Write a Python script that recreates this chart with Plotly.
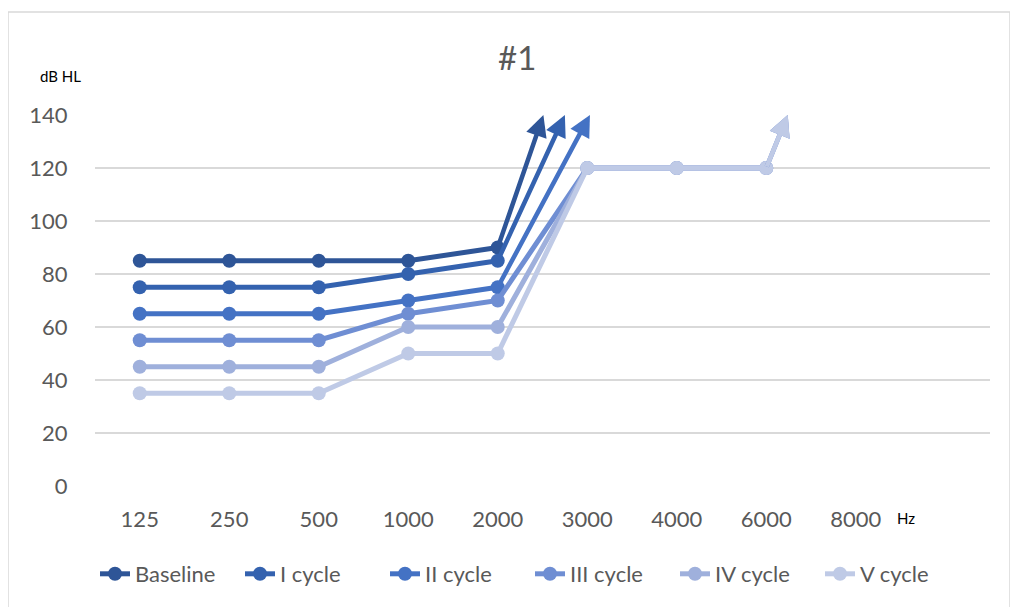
import plotly.graph_objects as go

categories = ["125", "250", "500", "1000", "2000", "3000", "4000", "6000", "8000"]
series_names = ["Baseline", "I cycle", "II cycle", "III cycle", "IV cycle", "V cycle"]
baseline = [85, 85, 85, 85, 90]
cycle_1 = [75, 75, 75, 80, 85]
cycle_2 = [65, 65, 65, 70, 75]
cycle_3 = [55, 55, 55, 65, 70, 120, 120, 120]
cycle_4 = [45, 45, 45, 60, 60, 120, 120, 120]
cycle_5 = [35, 35, 35, 50, 50, 120, 120, 120]
# arrow tips (category index position, dB HL) indicating "no response"
arrow_tips = [(4.51, 140), (4.75, 140), (5.03, 140), (7.24, 140), (7.24, 140), (7.24, 140)]
colors = ["#2E5597", "#3462AF", "#4472C4", "#6F8ED3", "#9FB0DC", "#BFCAE6"]
y_ticks = [0, 20, 40, 60, 80, 100, 120, 140]

all_series = [baseline, cycle_1, cycle_2, cycle_3, cycle_4, cycle_5]
font_family = "Lato, 'Liberation Sans', sans-serif"

# page is rendered with an 8px body margin
OFF = 8
W, H = 1018 - OFF, 607 - OFF
PL, PT, PR, PB = 95, 115, 990, 486  # plot area in page pixels
L, T = PL - OFF, PT - OFF
R, B = W - (PR - OFF), H - (PB - OFF)
pw, ph = PR - PL, PB - PT


def px(x):
    return (x - PL) / pw


def py(y):
    return (PB - y) / ph


fig = go.Figure()
for name, vals, col in zip(series_names, all_series, colors):
    xs = list(range(len(vals)))
    fig.add_trace(go.Scatter(
        x=xs, y=vals, name=name, mode="lines+markers",
        line=dict(color=col, width=5),
        marker=dict(color=col, size=14),
    ))

annotations = []
for vals, col, tip in zip(all_series, colors, arrow_tips):
    annotations.append(dict(
        x=tip[0], y=tip[1], ax=len(vals) - 1, ay=vals[-1],
        xref="x", yref="y", axref="x", ayref="y",
        text="", showarrow=True, arrowhead=2, arrowsize=0.95,
        arrowwidth=4.5, arrowcolor=col, standoff=0, startstandoff=0,
    ))

annotations += [
    dict(text="#1", x=px(517), y=py(57), xref="paper", yref="paper", showarrow=False,
         xanchor="center", yanchor="middle",
         font=dict(size=33, color="#595959", family=font_family)),
    dict(text="dB HL", x=px(60), y=py(76), xref="paper", yref="paper", showarrow=False,
         xanchor="center", yanchor="middle",
         font=dict(size=15, color="#000000", family=font_family)),
    dict(text="Hz", x=px(906), y=py(518), xref="paper", yref="paper", showarrow=False,
         xanchor="center", yanchor="middle",
         font=dict(size=15, color="#000000", family=font_family)),
]

fig.update_layout(
    width=W, height=H,
    margin=dict(l=L, r=R, t=T, b=B, autoexpand=False),
    paper_bgcolor="white", plot_bgcolor="white",
    showlegend=True,
    legend=dict(orientation="h", x=px(530), xanchor="center", y=py(574), yanchor="middle",
                font=dict(size=22, color="#595959", family=font_family),
                entrywidth=100, entrywidthmode="pixels",
                tracegroupgap=0),
    annotations=annotations,
    shapes=[dict(type="rect", xref="paper", yref="paper",
                 x0=px(8), x1=px(1010), y0=py(640), y1=py(12),
                 line=dict(color="#D9D9D9", width=1.5), fillcolor="rgba(0,0,0,0)",
                 layer="below")],
)
fig.update_xaxes(
    range=[-0.5, 9.5], tickvals=list(range(len(categories))), ticktext=categories,
    showgrid=False, zeroline=False, showline=False,
    ticks="outside", ticklen=14, tickcolor="rgba(0,0,0,0)",
    tickfont=dict(size=22, color="#595959", family=font_family),
)
fig.update_yaxes(
    range=[0, 140], tickvals=y_ticks, showgrid=True, gridcolor="#D9D9D9", gridwidth=2,
    zeroline=False, showline=False,
    ticks="outside", ticklen=22, tickcolor="rgba(0,0,0,0)",
    tickfont=dict(size=22, color="#595959", family=font_family),
)
fig.write_html("out.html")
